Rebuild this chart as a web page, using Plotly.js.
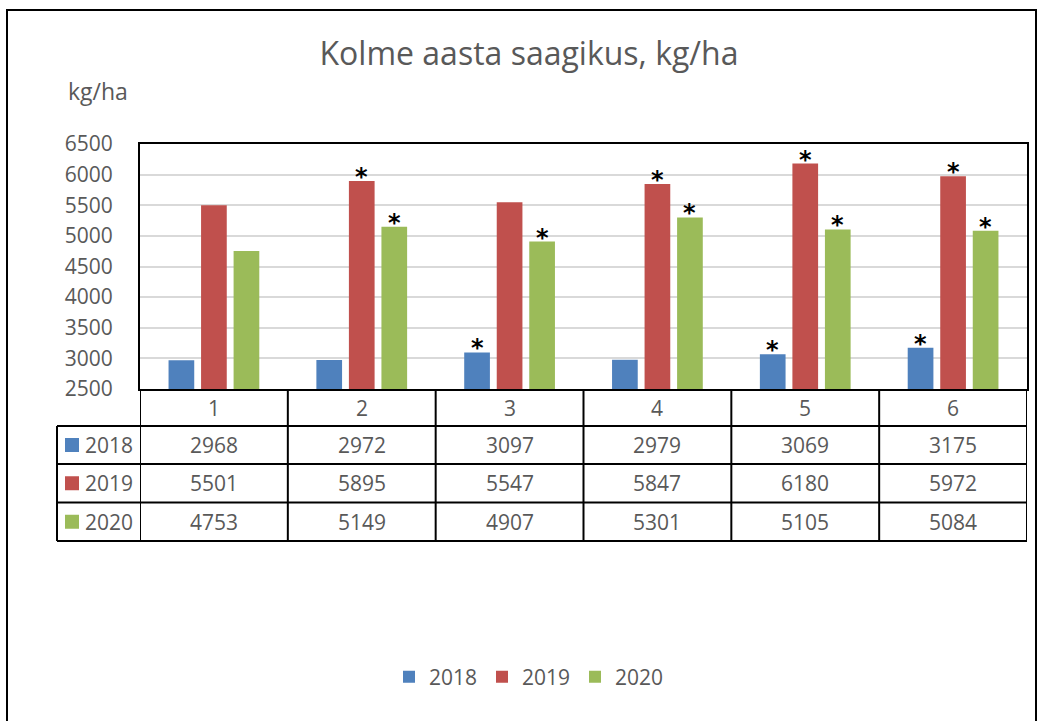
<!DOCTYPE html>
<html><head><meta charset="utf-8">
<script src="https://cdn.plot.ly/plotly-3.0.1.min.js"></script>
<style>html,body{margin:0;padding:0;background:#fff}</style>
</head><body><div id="chart" style="width:1037px;height:721px"></div>
<script>
// ---- data ----
const categories = ['1', '2', '3', '4', '5', '6'];
const seriesNames = ['2018', '2019', '2020'];
const values2018 = [2968, 2972, 3097, 2979, 3069, 3175];
const values2019 = [5501, 5895, 5547, 5847, 6180, 5972];
const values2020 = [4753, 5149, 4907, 5301, 5105, 5084];
const stars2018 = [false, false, true, false, true, true];
const stars2019 = [false, true, false, true, true, true];
const stars2020 = [false, true, true, true, true, true];
const yTickVals = [2500, 3000, 3500, 4000, 4500, 5000, 5500, 6000, 6500];
const titleText = 'Kolme aasta saagikus, kg/ha';
const unitText = 'kg/ha';

// ---- styling ----
const colors = ['#4F81BD', '#C0504D', '#9BBB59'];
const gray = '#595959';
const FONT = 'Open Sans, Noto Sans, sans-serif';
const W = 1037, H = 721;
const L = 140, R = 1027, T = 144, B = 389;
const PW = R - L, PH = B - T;
const px = x => (x - L) / PW;
const py = y => (B - y) / PH;
const bargap = 0.34;
const slotPx = (PW / categories.length) * (1 - bargap) / 3;

const allValues = [values2018, values2019, values2020];
const allStars = [stars2018, stars2019, stars2020];

const traces = seriesNames.map((name, i) => ({
  type: 'bar',
  name: name,
  x: categories,
  y: allValues[i],
  marker: {color: colors[i]},
  hoverinfo: 'x+y+name'
}));

const shapes = [];
const annotations = [];

// outer chart border
shapes.push({type: 'rect', xref: 'paper', yref: 'paper',
  x0: px(7), x1: px(1036), y0: py(730), y1: py(10),
  line: {color: '#000', width: 2}, fillcolor: 'rgba(0,0,0,0)', layer: 'below'});

// table geometry (pixels)
const headerTop = B, headerBottom = 426;
const rowEdges = [426, 464, 502.5, 541];
const tableLeft = 57;

rowEdges.forEach(y => shapes.push({type: 'line', xref: 'paper', yref: 'paper',
  x0: px(tableLeft), x1: 1, y0: py(y), y1: py(y), line: {color: '#000', width: 2}}));
shapes.push({type: 'line', xref: 'paper', yref: 'paper',
  x0: px(tableLeft), x1: px(tableLeft), y0: py(rowEdges[0]), y1: py(rowEdges[3]),
  line: {color: '#000', width: 2}});
for (let k = 0; k <= categories.length; k++) {
  shapes.push({type: 'line', xref: 'x', yref: 'paper',
    x0: k - 0.5, x1: k - 0.5, y0: py(headerTop), y1: py(rowEdges[3]),
    line: {color: '#000', width: 2}});
}

// header labels (x given as category index)
categories.forEach((c, k) => annotations.push({xref: 'x', yref: 'paper', x: k,
  y: py((headerTop + headerBottom) / 2), text: c, showarrow: false,
  font: {family: FONT, size: 21, color: gray}, xanchor: 'center', yanchor: 'middle'}));

seriesNames.forEach((name, i) => {
  const yc = (rowEdges[i] + rowEdges[i + 1]) / 2;
  shapes.push({type: 'rect', xref: 'paper', yref: 'paper',
    x0: px(65), x1: px(79), y0: py(yc + 7), y1: py(yc - 7),
    fillcolor: colors[i], line: {width: 0}});
  annotations.push({xref: 'paper', yref: 'paper', x: px(83), y: py(yc), text: name,
    showarrow: false, xanchor: 'left', yanchor: 'middle',
    font: {family: FONT, size: 21, color: gray}});
  allValues[i].forEach((v, k) => annotations.push({xref: 'x', yref: 'paper',
    x: k, y: py(yc), text: String(v), showarrow: false,
    xanchor: 'center', yanchor: 'middle', font: {family: FONT, size: 21, color: gray}}));
});

// significance asterisks
allStars.forEach((flags, i) => {
  flags.forEach((f, k) => {
    if (!f) return;
    annotations.push({xref: 'x', yref: 'y', x: k, y: allValues[i][k],
      text: '<b>*</b>', showarrow: false, xanchor: 'center', yanchor: 'middle',
      xshift: (i - 1) * slotPx, yshift: 4,
      font: {family: 'DejaVu Sans, sans-serif', size: 24, color: '#000'}});
  });
});

annotations.push({xref: 'paper', yref: 'paper', x: px(98), y: py(91), text: unitText,
  showarrow: false, xanchor: 'center', yanchor: 'middle',
  font: {family: FONT, size: 23, color: gray}});

const layout = {
  width: W, height: H,
  margin: {l: L, r: W - R, t: T, b: H - B, pad: 0},
  paper_bgcolor: '#fff', plot_bgcolor: '#fff',
  font: {family: FONT, color: gray},
  title: {text: titleText, x: 529 / W, xanchor: 'center', xref: 'container',
    y: 1 - 54 / H, yanchor: 'middle', yref: 'container',
    font: {family: FONT, size: 32, color: gray}},
  barmode: 'group', bargap: bargap, bargroupgap: 0.21,
  xaxis: {type: 'category', showticklabels: false, ticks: '', showgrid: false,
    showline: true, linecolor: '#000', linewidth: 2, mirror: true, zeroline: false,
    range: [-0.5, categories.length - 0.5], fixedrange: true},
  yaxis: {range: [2500, 6500], tickvals: yTickVals, ticktext: yTickVals.map(String),
    showgrid: true, gridcolor: '#d9d9d9', gridwidth: 2, zeroline: false,
    showline: true, linecolor: '#000', linewidth: 2, mirror: true, ticks: '',
    ticklabelstandoff: 21, tickfont: {family: FONT, size: 21, color: gray}, fixedrange: true},
  showlegend: true,
  legend: {orientation: 'h', x: 0.438, xanchor: 'center', y: py(677), yanchor: 'middle',
    font: {family: FONT, size: 21, color: gray}, bgcolor: 'rgba(0,0,0,0)', traceorder: 'normal',
    entrywidth: 48, entrywidthmode: 'pixels'},
  shapes: shapes,
  annotations: annotations
};

Plotly.newPlot('chart', traces, layout, {displayModeBar: false, staticPlot: true});
</script>
</body></html>
